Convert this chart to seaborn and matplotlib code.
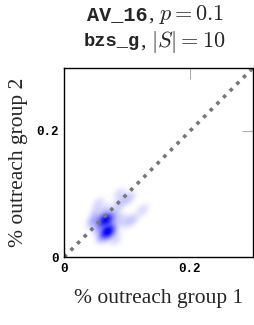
import numpy as np
import pandas as pd
import seaborn as sns
import matplotlib.pyplot as plt
from matplotlib.colors import LinearSegmentedColormap

# estimated outreach samples (group 1, group 2)
outreach_g1 = [0.060, 0.065, 0.070, 0.068, 0.072, 0.055, 0.062, 0.070, 0.075, 0.080,
               0.090, 0.100, 0.050, 0.085, 0.110, 0.060, 0.070, 0.095, 0.058, 0.066,
               0.066, 0.069, 0.064, 0.071, 0.067, 0.068, 0.048, 0.078, 0.125, 0.045,
               0.105, 0.088, 0.055, 0.082]
outreach_g2 = [0.060, 0.058, 0.060, 0.040, 0.042, 0.045, 0.038, 0.062, 0.050, 0.065,
               0.060, 0.055, 0.070, 0.080, 0.060, 0.030, 0.035, 0.090, 0.050, 0.075,
               0.059, 0.041, 0.061, 0.043, 0.039, 0.057, 0.058, 0.040, 0.075, 0.055,
               0.095, 0.100, 0.085, 0.028]
ticks = [0, 0.2]
tick_labels = ["0", "0.2"]
lims = [0, 0.3]

sns.set_style("white")
plt.rcParams['mathtext.fontset'] = 'cm'
plt.rcParams['font.family'] = ['DejaVu Serif']

df = pd.DataFrame({"g1": outreach_g1, "g2": outreach_g2})

fig = plt.figure(figsize=(2.55, 3.25), dpi=100)
ax = fig.add_axes([0.251, 0.209, 0.741, 0.582])

cmap = LinearSegmentedColormap.from_list("wb", ["#ffffff", "#0000ff"])
sns.kdeplot(data=df, x="g1", y="g2", fill=True, thresh=0.01, levels=40,
            cmap=cmap, bw_adjust=0.7, gridsize=200, cut=10, ax=ax)

ax.plot(lims, lims, ls=(0, (1, 1.6)), color="#777777", lw=2.6)

ax.set_xlim(lims)
ax.set_ylim(lims)
ax.set_xticks(ticks)
ax.set_yticks(ticks)
ax.set_xticklabels(tick_labels, family="Liberation Mono", weight="bold", fontsize=9)
ax.set_yticklabels(tick_labels, family="Liberation Mono", weight="bold", fontsize=9)
ax.tick_params(direction="in", length=8, width=0.6, color="#999999",
               top=True, right=True, pad=4, labelcolor="black")
for s in ax.spines.values():
    s.set_linewidth(1.0)
    s.set_color("black")

ax.set_xlabel("% outreach group 1", fontsize=15.5, family="Liberation Serif", labelpad=10)
ax.set_ylabel("% outreach group 2", fontsize=15.5, family="Liberation Serif", labelpad=6)

# title line 1
fig.text(148 / 255, 1 - 15 / 325, "AV_16", ha="right", va="center",
         family="Liberation Mono", weight="bold", fontsize=14.5)
fig.text(148 / 255, 1 - 15 / 325, r", $p = 0.1$", ha="left", va="center",
         family="Liberation Serif", fontsize=16)
# title line 2
fig.text(140 / 255, 1 - 42 / 325, "bzs_g", ha="right", va="center",
         family="Liberation Mono", weight="bold", fontsize=13.5)
fig.text(140 / 255, 1 - 42 / 325, r", $|S| = 10$", ha="left", va="center",
         family="Liberation Serif", fontsize=16)

fig.savefig("out.png", dpi=100)
